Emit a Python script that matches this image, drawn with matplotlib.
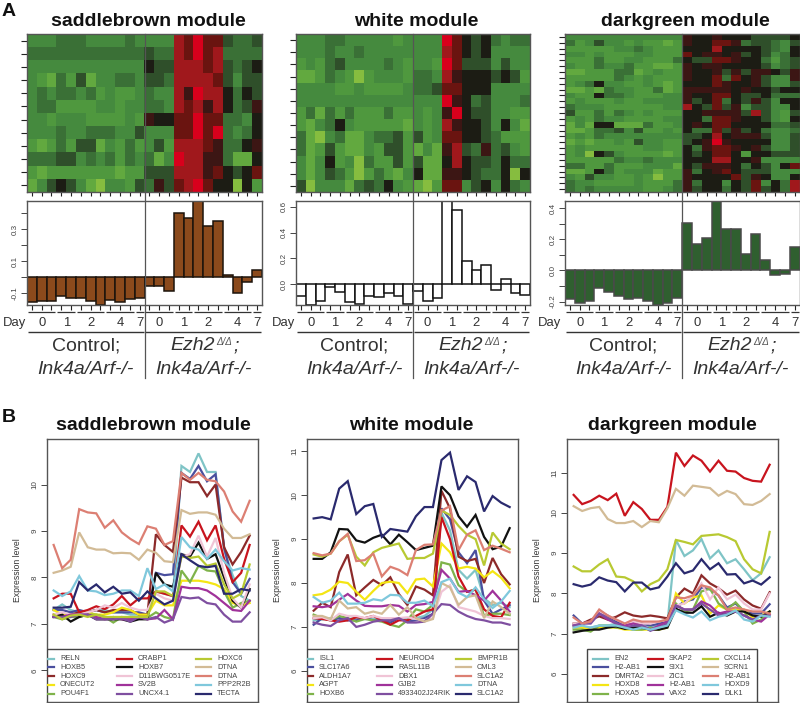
#!/usr/bin/env python3
# -*- coding: utf-8 -*-

import numpy as np
import matplotlib
matplotlib.use('Agg')
import matplotlib.pyplot as plt
from matplotlib.colors import ListedColormap
from matplotlib.lines import Line2D
from matplotlib.patches import Rectangle

plt.rcParams['font.family'] = ['Liberation Sans', 'DejaVu Sans']

W, H = 800, 703

# heatmap cells, level 0 (bright green) .. 6 (black) .. 10 (bright red)
heat_saddlebrown = [
    [3,3,3,4,4,4,3,3,3,3,4,3, 3,3,3,9,8,10,8,8,5,4,4,5],
    [4,4,4,4,4,4,4,4,4,4,4,4, 5,4,4,9,8,10,8,9,4,4,4,4],
    [3,3,3,3,3,3,3,3,3,3,3,3, 6,5,5,9,9,9,8,9,5,4,5,6],
    [3,2,1,4,2,5,1,3,3,4,4,3, 5,5,4,9,9,9,9,8,5,3,5,5],
    [3,4,3,4,4,3,4,2,3,2,2,3, 4,3,3,9,7,10,9,9,6,4,6,5],
    [3,4,4,2,2,2,2,3,3,2,3,3, 4,4,3,9,8,9,7,9,6,4,5,7],
    [3,3,2,3,3,3,2,2,2,2,3,2, 7,6,6,8,8,10,8,8,4,4,3,6],
    [3,3,3,4,3,3,4,4,4,3,3,5, 3,3,3,8,8,10,8,10,4,3,4,6],
    [2,1,2,4,2,5,5,1,3,2,4,2, 3,5,2,9,9,9,8,7,4,4,6,7],
    [4,4,4,5,5,3,4,3,4,2,4,3, 4,1,3,10,9,9,7,7,4,1,1,6],
    [2,1,2,2,2,2,2,2,2,1,2,2, 5,5,5,9,9,9,7,8,6,5,6,8],
    [1,3,5,6,5,3,1,0,3,3,2,5, 4,7,5,8,9,10,8,6,6,0,6,2],
]
heat_white = [
    [3,3,3,4,4,3,3,3,3,3,2,3, 3,3,3,10,8,6,5,6,4,3,4,4],
    [3,3,3,4,3,3,4,3,3,3,3,3, 3,3,3,9,8,6,5,6,3,3,3,3],
    [2,3,2,4,5,3,3,3,3,4,3,2, 3,3,2,10,8,5,5,5,3,5,3,3],
    [1,1,2,4,3,2,0,2,3,3,3,2, 4,4,3,9,7,6,6,6,5,6,5,2],
    [3,3,3,3,2,2,3,2,2,2,2,3, 4,4,5,8,8,6,6,6,3,3,3,3],
    [3,3,3,3,3,3,3,3,3,3,3,3, 3,3,3,10,7,6,4,5,3,3,3,4],
    [2,4,1,4,2,4,2,2,2,4,2,2, 3,2,3,7,10,6,5,5,3,3,2,2],
    [2,1,3,4,6,3,2,2,2,2,2,1, 3,2,3,9,7,6,6,5,3,6,3,1],
    [4,1,0,3,4,1,1,3,4,4,5,2, 5,2,3,8,8,6,6,5,4,2,2,2],
    [4,1,2,5,2,1,1,3,2,5,5,2, 1,3,1,7,9,5,4,7,4,5,3,2],
    [3,1,3,6,2,3,0,4,2,2,5,2, 5,1,1,6,9,6,5,5,4,6,4,4],
    [3,1,3,5,4,2,0,2,4,2,1,3, 6,1,1,7,7,6,5,4,4,6,0,6],
    [5,0,3,3,3,1,4,5,4,6,3,2, 1,0,2,8,8,3,5,6,3,6,4,3],
]
heat_darkgreen = [
    [3,3,3,3,3,3,3,3,3,3,3,3, 7,6,6,7,6,6,6,5,5,5,5,6],
    [4,2,3,5,3,3,2,3,2,2,1,2, 7,6,6,8,8,7,4,5,5,4,3,5],
    [2,2,2,2,2,3,3,4,3,2,2,2, 6,6,6,9,6,6,6,6,5,4,3,6],
    [3,3,2,3,2,2,2,3,3,2,2,2, 8,6,7,7,6,7,5,6,5,3,4,6],
    [2,2,2,4,2,2,3,3,2,2,2,4, 6,5,5,8,8,7,6,6,4,2,4,5],
    [3,2,2,4,3,3,4,2,2,1,1,2, 7,6,7,7,6,6,6,6,5,3,4,5],
    [1,1,2,2,2,4,4,1,2,3,2,2, 7,6,6,7,5,7,5,7,7,6,5,7],
    [2,2,2,2,2,4,3,2,3,2,2,2, 7,6,6,8,4,8,6,7,5,3,3,7],
    [2,3,4,6,3,3,2,2,3,2,1,2, 6,6,6,8,7,6,6,7,5,3,3,5],
    [1,1,2,1,4,3,3,2,2,4,1,2, 7,7,7,7,7,6,7,6,6,5,6,6],
    [3,2,2,6,4,4,3,2,2,2,3,3, 7,6,6,8,8,6,5,5,6,4,4,4],
    [2,3,2,2,2,3,2,2,3,3,3,3, 7,5,6,8,4,6,5,7,5,3,6,6],
    [4,3,3,3,2,2,2,2,2,2,3,3, 9,6,5,8,5,7,3,5,5,3,3,6],
    [5,2,2,4,2,4,3,2,3,2,2,2, 6,6,7,7,7,7,5,9,5,3,2,5],
    [2,3,2,4,3,3,2,2,2,2,3,3, 6,6,4,8,8,7,6,6,5,3,2,6],
    [1,3,1,6,6,1,1,1,4,2,2,3, 6,7,6,8,8,6,6,6,6,4,4,5],
    [1,1,2,4,4,5,3,5,2,2,3,2, 6,4,4,8,5,7,5,6,4,3,3,4],
    [2,3,2,4,3,3,3,3,3,3,3,3, 5,5,6,9,6,7,7,7,5,3,3,5],
    [1,2,1,2,2,3,2,5,3,3,2,2, 5,6,7,10,7,6,6,6,6,3,3,5],
    [2,3,2,2,2,2,2,2,3,3,2,2, 6,4,7,8,8,7,6,7,5,3,3,5],
    [2,3,0,6,5,3,2,2,2,2,1,2, 6,5,6,8,8,6,2,6,6,5,5,5],
    [2,2,2,2,2,4,3,3,4,3,3,3, 6,6,6,9,9,6,6,7,3,3,3,3],
    [4,4,2,2,4,2,2,2,3,3,3,1, 6,5,7,7,7,6,4,6,5,3,6,8],
    [1,1,2,6,4,2,3,3,3,1,2,2, 7,4,6,7,8,6,5,5,5,3,3,3],
    [3,2,5,3,3,2,2,3,2,0,2,2, 7,6,6,6,6,8,5,7,6,3,3,6],
    [4,3,3,2,2,2,2,3,2,2,2,4, 7,4,6,6,3,6,5,8,3,6,4,9],
    [4,3,4,3,3,3,3,3,2,2,3,4, 7,5,6,6,4,6,5,8,5,6,4,9],
]
heat_colors = ['#86bd3f', '#62a93f', '#4f983e', '#458a3e', '#3a7036', '#2f4f2a',
               '#1c1c14', '#3c1614', '#6a1410', '#a0181c', '#d8001c']

# eigengene bars
bars_saddlebrown = [-0.156, -0.146, -0.148, -0.117, -0.129, -0.129, -0.146, -0.173, -0.14, -0.152, -0.137, -0.129,
                    -0.054, -0.054, -0.085, 0.404, 0.369, 0.477, 0.321, 0.35, 0.012, -0.098, -0.027, 0.044]
bars_white = [-0.09, -0.16, -0.126, -0.023, -0.059, -0.136, -0.154, -0.09, -0.095, -0.067, -0.087, -0.149,
              -0.049, -0.126, -0.108, 0.66, 0.577, 0.177, 0.113, 0.151, -0.044, 0.038, -0.064, -0.079]
bars_darkgreen = [-0.186, -0.208, -0.199, -0.112, -0.138, -0.167, -0.186, -0.174, -0.195, -0.222, -0.208, -0.176,
                  0.305, 0.167, 0.208, 0.445, 0.265, 0.265, 0.106, 0.231, 0.068, -0.032, -0.021, 0.153]

# day groups: first and last sample of each, within one genotype
day_labels = ['0', '1', '2', '4', '7']
day_groups = [(0, 2), (3, 4), (5, 7), (8, 10), (11, 11)]

line_colors = ['#7fc4c6', '#4a4f9e', '#8c2a2a', '#f4e514', '#7fb34a',
               '#c8141e', '#111111', '#f0c4d6', '#a0329a', '#7f4fa0',
               '#b8c932', '#d2bb96', '#dc7f73', '#7fc8dc', '#2a2a6e']

genes_saddlebrown = ['RELN', 'HOXB5', 'HOXC9', 'ONECUT2', 'POU4F1', 'CRABP1', 'HOXB7', 'D11BWG0517E',
                     'SV2B', 'UNCX4.1', 'HOXC6', 'DTNA', 'DTNA', 'PPP2R2B', 'TECTA']
expr_saddlebrown = [
    [7.3,7.42,7.3,7.25,7.25,7.3,7.3,7.25,7.25,7.2,7.2,7.2,7.7,7.65,7.6,10.4,10.27,10.67,10.27,10.27,8.6,8.05,7.6,7.5],
    [7.3,7.3,7.25,7.3,7.25,7.3,7.25,7.25,7.25,7.25,7.25,7.2,8.1,8.05,8.07,10.25,10.12,10.4,10.07,10.22,8.65,7.9,7.65,7.97],
    [7.2,7.2,7.2,7.25,7.25,7.3,7.25,7.3,7.3,7.3,7.2,7.2,8.93,8.7,8.55,10.15,10.05,10.05,9.75,10.0,8.65,8.28,8.55,8.9],
    [7.3,7.2,7.15,7.2,7.25,7.2,7.2,7.25,7.35,7.3,7.2,7.2,7.5,7.4,7.4,7.93,7.93,7.93,7.9,7.85,7.75,7.45,7.4,7.45],
    [7.15,7.1,7.15,7.15,7.2,7.2,7.15,7.03,7.15,7.1,7.15,7.13,7.25,7.15,7.1,8.15,7.9,8.25,8.15,8.13,7.7,7.35,7.45,7.5],
    [7.55,7.65,7.65,7.25,7.3,7.38,7.32,7.42,7.6,7.4,7.55,7.55,7.7,7.65,7.6,9.12,8.88,9.2,8.8,9.12,8.4,7.9,8.1,8.7],
    [7.15,7.2,7.05,7.15,7.2,7.1,7.1,7.1,7.1,7.05,7.1,7.1,8.1,7.85,7.8,8.5,8.45,8.75,8.4,8.5,8.0,7.5,7.35,7.75],
    [7.2,7.25,7.2,7.2,7.25,7.3,7.4,7.35,7.45,7.35,7.3,7.3,7.65,7.55,7.5,8.45,8.5,8.9,8.45,8.85,8.1,7.55,7.35,7.85],
    [7.15,7.15,7.2,7.2,7.2,7.15,7.1,7.15,7.1,7.1,7.15,7.1,7.12,7.3,7.1,7.8,7.77,7.77,7.72,7.6,7.45,7.3,7.28,7.5],
    [7.15,7.15,7.15,7.2,7.2,7.1,7.1,7.1,7.12,7.05,7.15,7.1,7.15,7.03,7.1,7.58,7.55,7.57,7.45,7.42,7.2,7.05,7.05,7.25],
    [7.2,7.1,7.18,7.2,7.15,7.2,7.15,7.15,7.15,7.15,7.15,7.15,7.7,7.7,7.6,8.45,8.42,8.45,8.25,8.3,7.85,7.55,7.65,8.28],
    [8.1,8.15,8.23,8.97,8.65,8.6,8.6,8.52,8.53,8.52,8.38,8.6,8.53,8.35,8.33,9.45,9.37,9.4,9.4,9.35,9.05,8.85,8.85,8.93],
    [8.7,8.2,8.38,9.47,9.4,9.38,9.07,9.23,8.97,8.83,8.72,9.1,9.05,8.7,8.78,10.25,10.1,10.25,10.1,10.07,9.85,9.42,9.2,9.65],
    [7.72,7.6,7.7,8.03,7.72,7.7,7.62,7.65,7.72,7.72,7.6,8.2,7.75,7.85,7.7,8.87,8.65,8.6,8.4,8.6,8.35,8.15,8.2,8.17],
    [7.35,7.35,7.37,7.9,7.72,7.85,7.68,7.8,7.65,7.68,7.5,7.7,7.55,7.42,7.5,8.5,8.37,8.25,8.22,8.25,7.65,7.65,7.75,7.72],
]

genes_white = ['ISL1', 'SLC17A6', 'ALDH1A7', 'AGPT', 'HOXB6', 'NEUROD4', 'RASL11B', 'DBX1',
               'GJB2', '4933402J24RIK', 'BMPR1B', 'CML3', 'SLC1A2', 'DTNA', 'SLC1A2']
expr_white = [
    [7.15,7.17,7.2,7.2,7.18,7.2,7.18,7.18,7.2,7.15,7.2,7.18,7.2,7.25,7.4,9.6,9.2,8.3,8.1,8.3,7.65,7.5,7.55,7.45],
    [7.05,7.2,7.15,7.2,7.15,7.15,7.2,7.15,7.15,7.1,7.2,7.12,7.15,7.2,7.3,9.7,9.45,8.7,8.45,8.75,7.6,7.3,7.4,7.5],
    [7.37,7.55,7.45,8.25,8.65,7.72,7.9,8.07,7.95,8.13,7.75,7.5,7.92,7.85,7.72,10.1,9.7,8.6,8.5,8.55,8.0,8.57,8.2,7.97],
    [7.72,7.75,7.85,8.03,8.0,7.8,7.62,7.82,8.0,8.03,8.0,7.77,8.08,8.1,7.92,8.9,8.7,8.33,8.37,8.33,8.13,8.27,8.12,7.88],
    [7.28,7.2,7.15,7.25,7.2,7.12,7.18,7.15,7.12,7.05,7.0,7.15,7.4,7.35,7.5,8.47,8.42,7.95,7.8,7.85,7.25,7.3,7.3,7.27],
    [7.2,7.18,7.15,7.12,7.15,7.22,7.2,7.25,7.15,7.05,7.15,7.15,7.25,7.35,7.4,9.5,9.0,8.15,7.8,7.85,7.4,7.25,7.22,7.55],
    [8.55,8.55,8.7,9.23,9.22,8.97,8.92,9.03,9.1,8.88,9.1,8.93,8.75,8.8,8.85,10.2,10.0,9.52,9.28,9.55,9.05,8.77,8.83,9.25],
    [7.2,7.22,7.15,7.3,7.25,7.25,7.2,7.25,7.2,7.2,7.2,7.22,7.18,7.15,7.2,7.8,7.95,7.45,7.4,7.35,7.25,7.2,7.2,7.18],
    [7.47,7.45,7.48,7.62,7.75,7.6,7.48,7.47,7.47,7.5,7.48,7.35,7.5,7.52,7.57,8.3,8.1,7.8,7.82,7.72,7.6,7.82,7.6,7.35],
    [7.1,7.05,7.02,7.15,7.2,7.0,7.05,7.12,7.15,7.15,7.2,7.1,7.1,7.12,7.3,7.52,7.5,7.35,7.25,7.18,7.15,7.1,7.1,7.05],
    [8.65,8.6,8.67,8.95,9.1,8.6,8.4,8.7,8.8,8.85,8.9,8.55,8.57,8.57,8.67,9.65,9.55,9.3,9.1,9.0,8.4,9.15,8.9,8.77],
    [7.25,7.25,7.18,7.6,7.42,7.45,7.3,7.35,7.3,7.5,7.28,7.45,7.2,7.12,7.18,8.0,7.9,7.5,7.68,7.72,7.2,7.58,7.45,7.3],
    [8.68,8.63,8.67,8.95,9.12,8.5,8.52,8.67,8.15,8.37,8.3,8.18,8.75,8.87,8.88,9.65,9.75,8.75,9.1,9.2,8.75,8.85,8.78,8.7],
    [7.68,7.55,7.6,7.78,7.53,7.53,7.55,7.63,7.6,7.73,7.72,7.55,7.55,7.6,7.47,8.02,8.1,7.78,7.68,7.9,7.63,7.43,7.58,7.82],
    [9.47,9.5,9.45,10.15,10.32,9.57,9.75,9.8,9.05,9.23,9.2,9.17,9.52,9.73,9.73,10.8,10.97,10.12,10.43,10.3,9.63,9.98,9.83,9.73],
]

genes_darkgreen = ['EN2', 'H2-AB1', 'DMRTA2', 'HOXD8', 'HOXA5', 'SKAP2', 'SIX1', 'ZIC1',
                   'H2-AB1', 'VAX2', 'CXCL14', 'SCRN1', 'H2-AB1', 'HOXD9', 'DLK1']
expr_darkgreen = [
    [7.2,7.15,7.15,7.2,7.2,7.25,7.15,7.15,7.2,7.15,7.25,7.25,9.33,8.93,9.07,9.35,8.87,9.07,8.75,8.85,8.6,8.33,8.5,8.9],
    [7.45,7.25,7.3,7.55,7.45,7.3,7.2,7.3,7.25,7.2,7.25,7.3,7.65,7.8,7.85,8.15,8.1,7.95,7.65,7.75,7.55,7.5,7.5,7.73],
    [7.25,7.25,7.35,7.43,7.35,7.42,7.53,7.45,7.42,7.45,7.42,7.38,7.9,8.12,8.0,8.45,8.25,8.13,7.97,8.07,7.85,7.7,7.62,8.03],
    [7.15,7.15,7.1,7.15,7.15,7.15,7.1,7.1,7.1,7.1,7.1,7.15,8.0,7.75,7.9,7.95,7.5,7.7,7.6,7.6,7.6,7.4,7.45,7.55],
    [7.1,7.1,7.05,7.2,7.2,7.15,7.15,7.1,7.1,7.15,7.1,7.2,7.75,7.55,7.6,8.05,8.12,7.75,7.6,7.78,7.55,7.25,7.35,7.55],
    [10.45,10.22,10.3,10.43,10.32,10.48,9.93,10.27,10.1,9.83,9.83,10.15,11.5,11.17,11.43,11.3,11.03,11.3,11.05,11.03,10.87,10.8,10.78,11.2],
    [7.03,7.07,7.1,7.1,7.15,7.18,7.12,7.15,7.15,7.1,7.1,7.15,7.62,7.52,7.52,7.68,7.42,7.52,7.45,7.55,7.55,7.45,7.42,7.55],
    [7.25,7.25,7.3,7.55,7.45,7.35,7.25,7.3,7.25,7.25,7.3,7.35,7.7,7.75,7.95,8.25,7.85,8.15,7.85,7.97,7.75,7.6,7.6,8.0],
    [7.2,7.25,7.3,7.5,7.35,7.25,7.2,7.25,7.2,7.1,7.2,7.3,7.7,7.6,7.6,7.8,7.7,7.5,7.55,7.55,7.45,7.35,7.3,7.48],
    [7.2,7.25,7.25,7.5,7.4,7.25,7.15,7.2,7.2,7.07,7.15,7.25,7.7,7.6,7.6,7.75,7.6,7.45,7.5,7.55,7.45,7.35,7.45,7.45],
    [8.67,8.55,8.55,8.72,8.85,8.42,8.4,8.3,8.05,8.23,8.33,8.6,9.33,9.28,9.22,9.43,9.45,9.47,9.4,9.3,8.85,8.6,8.5,9.53],
    [10.17,10.05,10.12,10.15,9.85,9.75,9.75,9.8,9.65,9.8,9.77,10.12,10.6,10.43,10.68,10.65,10.62,10.43,10.55,10.47,10.22,10.2,10.3,10.47],
    [7.4,7.25,7.3,7.6,7.45,7.35,7.25,7.35,7.3,7.3,7.3,7.35,7.9,7.88,7.95,8.2,8.15,7.95,7.6,7.65,7.6,7.55,7.55,7.5],
    [7.15,7.2,7.15,7.2,7.2,7.2,7.15,7.1,7.15,7.1,7.15,7.2,7.58,7.48,7.4,7.55,7.33,7.42,7.47,7.58,7.35,7.3,7.45,7.42],
    [8.23,8.17,8.22,8.4,8.32,8.28,8.05,8.27,8.27,8.1,8.15,8.42,8.75,8.5,8.57,8.85,8.6,8.75,8.47,8.48,8.25,8.32,8.22,8.4],
]

FRAME = '#555555'
TEXT = '#333333'


def px_axes(fig, x0, y0, x1, y1):
    """
    axes from pixel box, y counted from the top of the image
    """
    return fig.add_axes([x0 / W, 1 - y1 / H, (x1 - x0) / W, (y1 - y0) / H])


def style_frame(ax):
    for spine in ax.spines.values():
        spine.set_color(FRAME)
        spine.set_linewidth(1.0)


def plot_heat(fig, box, cells, title):
    """
    top heatmap with small ticks on the left and below
    """
    x0, x1 = box
    ax = px_axes(fig, x0, 34, x1, 192)
    cells = np.array(cells)
    ax.imshow(cells, cmap=ListedColormap(heat_colors), vmin=-0.5, vmax=10.5,
              aspect='auto', interpolation='nearest')
    ax.set_xticks(np.arange(cells.shape[1]))
    ax.set_yticks(np.arange(cells.shape[0]))
    ax.set_xticklabels([])
    ax.set_yticklabels([])
    ax.tick_params(axis='y', length=4.5, width=0.8, color='#222222')
    ax.tick_params(axis='x', length=3, width=0.8, color='#222222')
    style_frame(ax)
    fig.text(((x0 + x1) / 2 + 3.5) / W, 1 - 22 / H, title, ha='center', va='center',
             fontsize=14, fontweight='bold', color='#111111')


def plot_bars(fig, box, values, color, edge, ylim, major, labels, minor, day_right):
    """
    eigengene barplot plus the day and genotype annotation under it
    """
    x0, x1 = box
    top, bottom = 201, 305
    ax = px_axes(fig, x0, top, x1, bottom)
    xs = np.arange(len(values))
    ax.bar(xs, values, width=1.0, color=color, edgecolor=edge, linewidth=1.1)
    ax.set_xlim(-0.5, len(values) - 0.5)
    ax.set_ylim(*ylim)
    ax.set_xticks(xs)
    ax.set_xticklabels([])
    ax.set_yticks(major + minor)
    ax.set_yticklabels(labels + [''] * len(minor), rotation=90, va='center',
                       fontsize=5.8, color='#444444')
    ax.tick_params(axis='y', length=4, width=0.7, color='#444444', pad=2)
    ax.tick_params(axis='x', length=3.5, width=0.8, color='#222222')
    style_frame(ax)

    # annotation rows live under the axes: x in data, y as a fraction of the height
    trans = ax.get_xaxis_transform()
    unit = (x1 - x0) / len(values)

    def y_frac(py):
        return (bottom - py) / (bottom - top)

    for half in (0, 12):
        for day, (first, last) in zip(day_labels, day_groups):
            ax.plot([first + half - 0.4, last + half + 0.4], [y_frac(312)] * 2, color='#333333',
                    lw=0.9, transform=trans, clip_on=False, solid_capstyle='butt')
            ax.text((first + last) / 2 + half, y_frac(323), day, transform=trans, ha='center',
                    va='center', fontsize=9.4, color=TEXT)
        ax.plot([half - 0.4, half + 11.4], [y_frac(332)] * 2, color='#333333', lw=1.0,
                transform=trans, clip_on=False, solid_capstyle='butt')

    ax.text(5.5, y_frac(346), 'Control;', transform=trans, ha='center', va='center',
            fontsize=14, color=TEXT)
    ax.text(5.5, y_frac(369), 'Ink4a/Arf-/-', transform=trans, ha='center', va='center',
            fontsize=14, style='italic', color=TEXT)
    # Ezh2 with its small superscript, set as three pieces to keep the spacing tight
    ax.text(17.5 - 33 / unit, y_frac(346), 'Ezh2', transform=trans, ha='left', va='center',
            fontsize=14, style='italic', color=TEXT)
    ax.text(17.5 + 12.5 / unit, y_frac(342), '\u0394/\u0394', transform=trans, ha='left', va='center',
            fontsize=7, style='italic', color='#555555')
    ax.text(17.5 + 30 / unit, y_frac(346), ';', transform=trans, ha='left', va='center',
            fontsize=14, style='italic', color=TEXT)
    ax.text(17.5, y_frac(369), 'Ink4a/Arf-/-', transform=trans, ha='center', va='center',
            fontsize=14, style='italic', color=TEXT)
    ax.text(-0.5 + (day_right - x0) / unit, y_frac(323), 'Day', transform=trans, ha='right', va='center',
            fontsize=9.4, color=TEXT)

    # genotype divider runs from the heatmap top through the labels
    xdiv = (x0 + x1) / 2 / W
    fig.add_artist(Line2D([xdiv, xdiv], [1 - 34 / H, 1 - 378 / H], color='#555555', lw=0.9))


def draw_key(ax, box, frame_x, columns_x, genes):
    """
    key drawn by hand: R left its first column of swatches cut off by the plot edge
    """
    x0, x1 = box
    top, bottom = 439, 702

    def fx(px):
        return (px - x0) / (x1 - x0)

    def fy(py):
        return (bottom - py) / (bottom - top)

    ax.add_patch(Rectangle((fx(frame_x[0]), 0), fx(frame_x[1]) - fx(frame_x[0]), fy(649),
                           transform=ax.transAxes, facecolor='white', edgecolor='#444444',
                           lw=1.0, zorder=3))
    rows_y = [658.7, 667.4, 676.1, 684.9, 693.6]
    for i, (gene, color) in enumerate(zip(genes, line_colors)):
        text_x = columns_x[i // 5]
        y = fy(rows_y[i % 5])
        ax.add_line(Line2D([fx(text_x - 21), fx(text_x - 6)], [y, y], color=color, lw=1.6,
                           transform=ax.transAxes, zorder=4))
        ax.text(fx(text_x), y, gene, transform=ax.transAxes, ha='left', va='center',
                fontsize=5.3, color='#444444', zorder=4)


def plot_lines(fig, box, genes, series, ylim, yticks, title, title_x, frame_x, columns_x):
    """
    expression profile of the top genes in a module
    """
    x0, x1 = box
    ax = px_axes(fig, x0, 439, x1, 702)
    for gene, values, color in zip(genes, series, line_colors):
        ax.plot(np.arange(len(values)), values, color=color, lw=1.6, solid_joinstyle='miter')
    ax.set_xlim(-0.78, 23.98)
    ax.set_ylim(*ylim)
    ax.set_xticks([])
    ax.set_yticks(yticks)
    ax.set_yticklabels([str(t) for t in yticks], rotation=90, va='center', fontsize=5.8, color='#444444')
    ax.tick_params(axis='y', length=4, width=0.7, color='#444444', pad=2)
    style_frame(ax)
    ax.set_ylabel('Expression level', fontsize=6.2, color=TEXT, labelpad=7.2)
    fig.text(title_x / W, 1 - 425 / H, title, ha='center', va='center',
             fontsize=14, fontweight='bold', color='#111111')
    draw_key(ax, box, frame_x, columns_x, genes)


def main():
    fig = plt.figure(figsize=(W / 100, H / 100), dpi=100)

    plot_heat(fig, (27, 262), heat_saddlebrown, 'saddlebrown module')
    plot_heat(fig, (296, 530), heat_white, 'white module')
    plot_heat(fig, (565, 799.5), heat_darkgreen, 'darkgreen module')

    plot_bars(fig, (27, 262), bars_saddlebrown, '#8b4a1c', '#1c140c', (-0.173, 0.477),
              [-0.1, 0.1, 0.3], ['-0.1', '0.1', '0.3'], [0.0, 0.2, 0.4], 26)
    plot_bars(fig, (296, 530), bars_white, 'white', '#111111', (-0.16, 0.644),
              [0.0, 0.2, 0.4, 0.6], ['0.0', '0.2', '0.4', '0.6'], [], 295)
    plot_bars(fig, (565, 799.5), bars_darkgreen, '#2f5f2f', '#4a4a4a', (-0.222, 0.445),
              [-0.2, 0.0, 0.2, 0.4], ['-0.2', '0.0', '0.2', '0.4'], [-0.1, 0.1, 0.3], 561)

    plot_lines(fig, (47, 258), genes_saddlebrown, expr_saddlebrown, (5.32, 10.98),
               [6, 7, 8, 9, 10], 'saddlebrown module', 153, (47, 258), (60, 138, 217))
    plot_lines(fig, (307, 518), genes_white, expr_white, (5.29, 11.28),
               [6, 7, 8, 9, 10, 11], 'white module', 411, (307, 518), (319, 398, 477))
    plot_lines(fig, (567, 778), genes_darkgreen, expr_darkgreen, (5.30, 11.84),
               [6, 7, 8, 9, 10, 11], 'darkgreen module', 672, (587, 757), (614, 669, 724))

    fig.text(2 / W, 1 - 11 / H, 'A', fontsize=14, fontweight='bold', va='center', color='#111111')
    fig.text(2 / W, 1 - 418 / H, 'B', fontsize=14, fontweight='bold', va='center', color='#111111')

    fig.savefig('out.png', dpi=100)


if __name__ == '__main__':
    main()
